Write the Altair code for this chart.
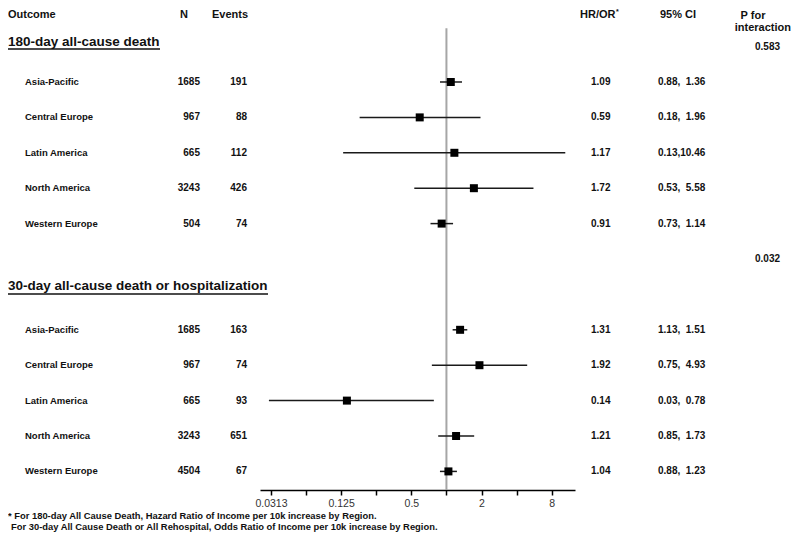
import altair as alt
import pandas as pd

# ---- data ----
groups = ["180-day all-cause death"] * 5 + ["30-day all-cause death or hospitalization"] * 5
regions = ["Asia-Pacific", "Central Europe", "Latin America", "North America", "Western Europe"] * 2
n_vals = [1685, 967, 665, 3243, 504, 1685, 967, 665, 3243, 4504]
events = [191, 88, 112, 426, 74, 163, 74, 93, 651, 67]
hr = [1.09, 0.59, 1.17, 1.72, 0.91, 1.31, 1.92, 0.14, 1.21, 1.04]
ci_lo = [0.88, 0.18, 0.13, 0.53, 0.73, 1.13, 0.75, 0.03, 0.85, 0.88]
ci_hi = [1.36, 1.96, 10.46, 5.58, 1.14, 1.51, 4.93, 0.78, 1.73, 1.23]
row_index = [0, 1, 2, 3, 4, 7, 8, 9, 10, 11]
section_titles = ["180-day all-cause death", "30-day all-cause death or hospitalization"]
p_interaction = ["0.583", "0.032"]
tick_values = [2.0 ** k for k in range(-5, 4)]
footnotes = ["* For 180-day All Cause Death, Hazard Ratio of Income per 10k increase by Region.",
             "For 30-day All Cause Death or All Rehospital, Odds Ratio of Income per 10k increase by Region."]


def ci_label(lo, hi):
    sep = "," if hi >= 10 else ",\u2007"
    return f"{lo:.2f}{sep}{hi:.2f}"


df = pd.DataFrame({
    "group": groups, "region": regions, "n": n_vals, "events": events,
    "hr": hr, "lo": ci_lo, "hi": ci_hi, "row": row_index,
    "ci": [ci_label(a, b) for a, b in zip(ci_lo, ci_hi)],
    "hr_txt": [f"{v:.2f}" for v in hr],
})

FONT = "Liberation Sans, Arial, sans-serif"
H = 482
yscale = alt.Scale(domain=[-2.09, 11.525], range=[0, H], nice=False, zero=False)
xscale = alt.Scale(type="log", base=2, domain=[2 ** -5.313, 2 ** 3.664], range=[252, 567], nice=False)
Y = alt.Y("row:Q", scale=yscale, axis=None)

base = alt.Chart(df)

label_expr = ("datum.value < 0.05 ? '0.0313' : (datum.value == 0.125 || datum.value == 0.5 || "
              "datum.value == 2 || datum.value == 8) ? '' + datum.value : ''")

# reference line at 1
ref = alt.Chart(pd.DataFrame({"x": [1.0], "y": [-1.52], "y2": [11.525]})).mark_rule(
    color="#a6a6a6", strokeWidth=2
).encode(
    x=alt.X("x:Q", scale=xscale,
            axis=alt.Axis(values=tick_values, labelExpr=label_expr, title=None, grid=False,
                          domainColor="#000", domainWidth=1.5, tickColor="#000", tickWidth=1.5,
                          tickSize=5, labelFont=FONT, labelFontSize=10.5, labelColor="#333",
                          labelPadding=3, labelFlush=False)),
    y=alt.Y("y:Q", scale=yscale, axis=None),
    y2="y2:Q",
)

bars = base.mark_rule(color="#1a1a1a", strokeWidth=1.5).encode(
    x=alt.X("lo:Q", scale=xscale), x2="hi:Q", y=Y
)
pts = base.mark_point(shape="square", filled=True, color="#000", size=64, opacity=1).encode(
    x=alt.X("hr:Q", scale=xscale), y=Y
)


def col_text(field, xpos, align, size=10):
    return base.mark_text(align=align, baseline="middle", font=FONT, fontWeight="bold",
                          fontSize=size, color="#111").encode(
        x=alt.value(xpos), y=Y, text=field)


t_region = col_text("region:N", 17, "left", 9.5)
t_n = col_text("n:Q", 192, "right")
t_ev = col_text("events:Q", 239, "right")
t_hr = col_text("hr_txt:N", 583, "left")
t_ci = col_text("ci:N", 650, "left")


def ann(text, x, y, align="left", size=11, weight="bold", baseline="alphabetic"):
    return alt.Chart(pd.DataFrame({"t": [text]})).mark_text(
        align=align, baseline=baseline, font=FONT, fontWeight=weight, fontSize=size, color="#111"
    ).encode(x=alt.value(x), y=alt.value(y), text="t:N")


headers = [
    ann("Outcome", 0, 10), ann("N", 172, 10), ann("Events", 204, 10),
    ann("HR/OR", 572, 10), ann("*", 608, 6, size=7),
    ann("95% CI", 652, 10), ann("P for", 745, 11, align="center"),
    ann("interaction", 783, 23, align="right"),
]
titles = [
    ann(section_titles[0], 0, 34, size=13.5, baseline="middle"),
    ann(section_titles[1], 0, 278, size=13.5, baseline="middle"),
]
underlines = [
    alt.Chart(pd.DataFrame({"a": [0]})).mark_rule(color="#111", strokeWidth=1.3).encode(
        x=alt.value(0), x2=alt.value(152), y=alt.value(41)),
    alt.Chart(pd.DataFrame({"a": [0]})).mark_rule(color="#111", strokeWidth=1.3).encode(
        x=alt.value(0), x2=alt.value(260), y=alt.value(286)),
]
pvals = [
    ann(p_interaction[0], 747, 39, size=10, baseline="middle"),
    ann(p_interaction[1], 747, 251, size=10, baseline="middle"),
]
foot = [
    ann(footnotes[0], 0, 508, size=9.4, baseline="middle"),
    ann(footnotes[1], 3, 519, size=9.4, baseline="middle"),
]

chart = alt.layer(
    ref, bars, pts, t_region, t_n, t_ev, t_hr, t_ci,
    *headers, *titles, *underlines, *pvals, *foot
).properties(
    width=784, height=H,
    autosize=alt.AutoSizeParams(type="none"),
    padding={"left": 0, "top": 0, "right": 0, "bottom": 45},
).configure_view(stroke=None)

chart.save("out.html", embed_options={"renderer": "svg", "actions": False})
